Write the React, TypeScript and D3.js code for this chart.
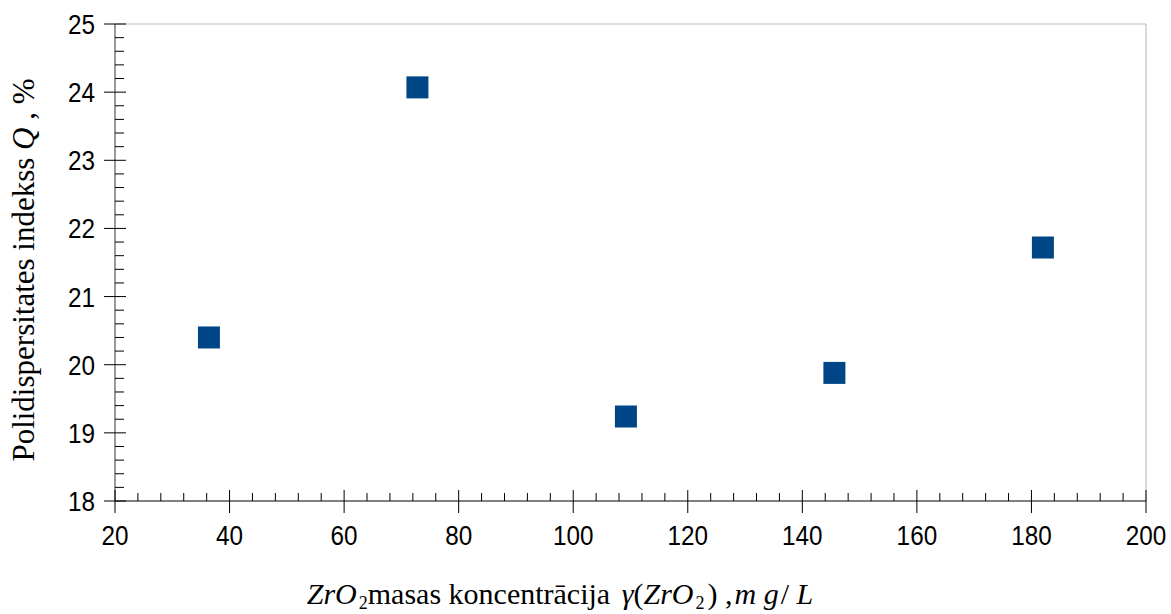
import React from "react";
import * as d3 from "d3";

const xValues = [36.4, 72.8, 109.2, 145.6, 182];
const yValues = [20.4, 24.07, 19.24, 19.88, 21.72];
const xTicks = [20, 40, 60, 80, 100, 120, 140, 160, 180, 200];
const yTicks = [18, 19, 20, 21, 22, 23, 24, 25];

const W = 1171;
const H = 614;
const M = { left: 115, right: 1146, top: 24, bottom: 501 };

export default function App() {
  const x = d3.scaleLinear().domain([20, 200]).range([M.left, M.right]);
  const y = d3.scaleLinear().domain([18, 25]).range([M.bottom, M.top]);
  const xMinor = d3.range(20, 200.001, 4).filter((v) => Math.abs(v % 20) > 1e-6);
  const yMinor = d3.range(18, 25.001, 0.2).filter((v) => Math.abs(v - Math.round(v)) > 1e-6);
  const sz = 22;
  const tickFont = { fontFamily: "Liberation Sans", fontSize: 27, fill: "#000" };
  return (
    <svg width={W} height={H} style={{ position: "absolute", left: 0, top: 0 }}>
      <rect x={0} y={0} width={W} height={H} fill="#fff" />
      {/* frame */}
      <line x1={M.left} x2={M.right} y1={M.top} y2={M.top} stroke="#d0d0d0" strokeWidth={1.5} />
      <line x1={M.right} x2={M.right} y1={M.top} y2={M.bottom} stroke="#b3b3b3" strokeWidth={1} />
      {/* axes */}
      <line x1={M.left} x2={M.right} y1={M.bottom} y2={M.bottom} stroke="#000" strokeWidth={1} />
      <line x1={M.left} x2={M.left} y1={M.top} y2={M.bottom} stroke="#555" strokeWidth={1.2} />
      {xTicks.map((t) => (
        <g key={"xt" + t}>
          <line x1={x(t)} x2={x(t)} y1={M.bottom - 11} y2={M.bottom + 12} stroke="#000" strokeWidth={1} />
          <text transform={`translate(${x(t)}, ${M.bottom + 44}) scale(0.9,1)`} textAnchor="middle" {...tickFont}>
            {t}
          </text>
        </g>
      ))}
      {xMinor.map((t) => (
        <line key={"xm" + t} x1={x(t)} x2={x(t)} y1={M.bottom - 8} y2={M.bottom} stroke="#000" strokeWidth={1} />
      ))}
      {yTicks.map((t) => (
        <g key={"yt" + t}>
          <line x1={M.left - 11} x2={M.left + 11} y1={y(t)} y2={y(t)} stroke="#000" strokeWidth={1} />
          <text transform={`translate(${M.left - 20}, ${y(t) + 10}) scale(0.9,1)`} textAnchor="end" {...tickFont}>
            {t}
          </text>
        </g>
      ))}
      {yMinor.map((t) => (
        <line key={"ym" + t} x1={M.left} x2={M.left + 9} y1={y(t)} y2={y(t)} stroke="#000" strokeWidth={1} />
      ))}
      {/* points */}
      {xValues.map((v, i) => (
        <rect key={"p" + i} x={x(v) - sz / 2} y={y(yValues[i]) - sz / 2} width={sz} height={sz} fill="#004586" />
      ))}
      {/* y label */}
      <text
        transform={`translate(34, 270) rotate(-90)`}
        textAnchor="middle"
        fontFamily="Liberation Serif"
        fontSize={31}
        fill="#000"
      >
        Polidispersitates indekss <tspan fontStyle="italic">Q</tspan> , %
      </text>
      {/* x label */}
      <text x={560} y={604} textAnchor="middle" fontFamily="Liberation Serif" fontSize={30} fill="#000">
        <tspan fontStyle="italic">ZrO</tspan>
        <tspan fontSize={18} dy={5} dx={2}>2</tspan>
        <tspan dy={-5}>masas koncentrācija </tspan>
        <tspan fontStyle="italic" dx={4}>γ</tspan>
        <tspan>(</tspan>
        <tspan fontStyle="italic">ZrO</tspan>
        <tspan fontSize={18} dy={5} dx={2}>2</tspan>
        <tspan dy={-5} dx={3}>) ,</tspan>
        <tspan fontStyle="italic" dx={2}>m g</tspan>
        <tspan dx={2}>/ </tspan>
        <tspan fontStyle="italic">L</tspan>
      </text>
    </svg>
  );
}
